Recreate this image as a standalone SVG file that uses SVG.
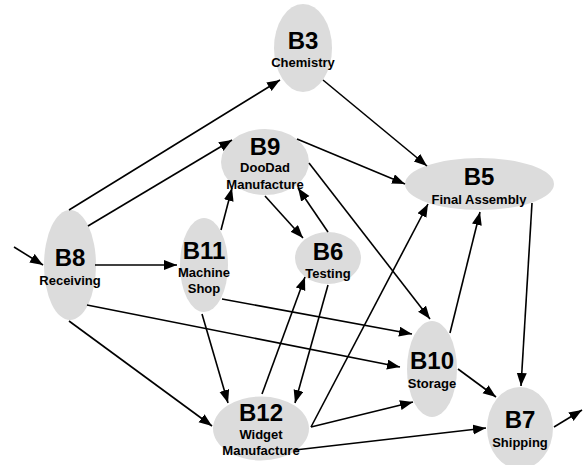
<svg xmlns="http://www.w3.org/2000/svg" width="583" height="465" viewBox="0 0 583 465">
<style>
.n{fill:#dcdcdc;stroke:none}
.t1{font-family:"Liberation Sans",Arial,sans-serif;font-weight:bold;font-size:24px;text-anchor:middle;fill:#000}
.t2{font-family:"Liberation Sans",Arial,sans-serif;font-weight:bold;font-size:13px;text-anchor:middle;fill:#000}
#edges line{stroke:#000;stroke-width:1.6;marker-end:url(#ah)}
</style>
<defs>
<marker id="ah" markerUnits="userSpaceOnUse" markerWidth="14" markerHeight="11" refX="13" refY="5" orient="auto">
<path d="M0,0 L13,5 L0,10 z" fill="#000"/>
</marker>
</defs>
<rect width="583" height="465" fill="#fff"/>
<g id="B3"><ellipse class="n" cx="303" cy="48" rx="29" ry="44"/><text class="t1" x="303" y="49">B3</text><text class="t2" x="303" y="67">Chemistry</text></g>
<g id="B9"><ellipse class="n" cx="265" cy="162" rx="44" ry="33"/><text class="t1" x="265" y="155">B9</text><text class="t2" x="265" y="172">DooDad</text><text class="t2" x="265" y="189">Manufacture</text></g>
<g id="B5"><ellipse class="n" cx="479.5" cy="184" rx="74.5" ry="26"/><text class="t1" x="479" y="185">B5</text><text class="t2" x="479" y="204">Final Assembly</text></g>
<g id="B8"><ellipse class="n" cx="70" cy="265" rx="26" ry="55"/><text class="t1" x="70" y="266">B8</text><text class="t2" x="70" y="285">Receiving</text></g>
<g id="B11"><ellipse class="n" cx="204" cy="265" rx="24" ry="47"/><text class="t1" x="204" y="259">B11</text><text class="t2" x="204" y="277">Machine</text><text class="t2" x="204" y="293">Shop</text></g>
<g id="B6"><ellipse class="n" cx="328" cy="258" rx="33" ry="26"/><text class="t1" x="328" y="260">B6</text><text class="t2" x="328" y="278">Testing</text></g>
<g id="B10"><ellipse class="n" cx="432" cy="369" rx="25" ry="48"/><text class="t1" x="432" y="369">B10</text><text class="t2" x="432" y="388">Storage</text></g>
<g id="B7"><ellipse class="n" cx="520" cy="428" rx="33" ry="41"/><text class="t1" x="520" y="428">B7</text><text class="t2" x="520" y="447">Shipping</text></g>
<g id="B12"><ellipse class="n" cx="261" cy="428.5" rx="48" ry="32"/><text class="t1" x="261" y="421">B12</text><text class="t2" x="261" y="439">Widget</text><text class="t2" x="261" y="455">Manufacture</text></g>
<g id="edges">
<line x1="14" y1="247" x2="43" y2="265"/>
<line x1="69" y1="210" x2="280" y2="80"/>
<line x1="88" y1="226" x2="232" y2="140"/>
<line x1="95" y1="265" x2="177" y2="265"/>
<line x1="87" y1="305" x2="400" y2="367"/>
<line x1="69" y1="321" x2="212" y2="426"/>
<line x1="221" y1="230" x2="232" y2="188"/>
<line x1="202" y1="314" x2="228" y2="403"/>
<line x1="222" y1="299" x2="412" y2="334"/>
<line x1="262" y1="394" x2="305" y2="277"/>
<line x1="328" y1="285" x2="295" y2="403"/>
<line x1="265" y1="196" x2="303" y2="238"/>
<line x1="328" y1="232" x2="298" y2="188"/>
<line x1="297" y1="139" x2="405" y2="184"/>
<line x1="309" y1="163" x2="430" y2="319"/>
<line x1="323" y1="80" x2="427" y2="166"/>
<line x1="311" y1="427" x2="428" y2="204"/>
<line x1="450" y1="333" x2="480" y2="212"/>
<line x1="532" y1="203" x2="521" y2="386"/>
<line x1="458" y1="369" x2="496" y2="397"/>
<line x1="311" y1="427" x2="413" y2="402"/>
<line x1="295" y1="450" x2="486" y2="428"/>
<line x1="554" y1="427" x2="582" y2="410"/>
</g>
</svg>
